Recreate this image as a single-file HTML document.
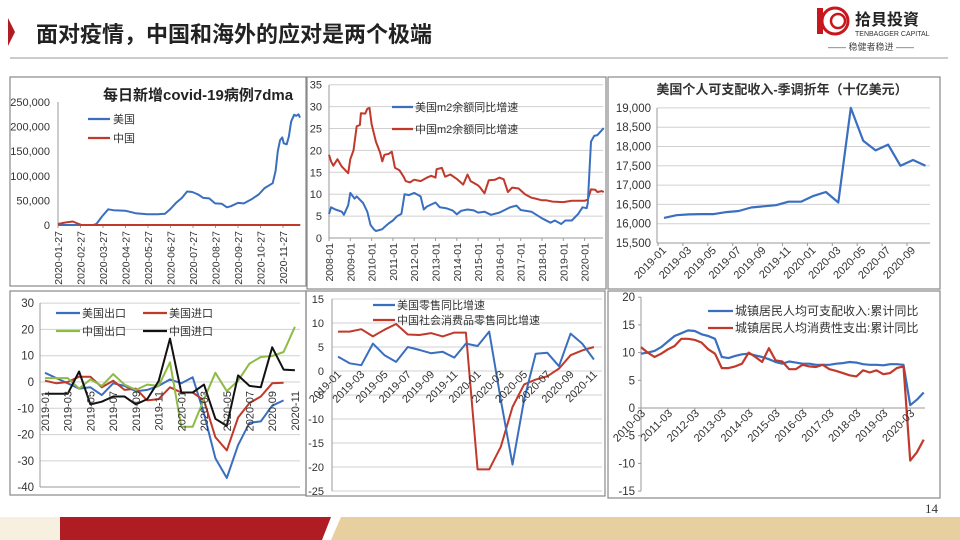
<!DOCTYPE html>
<html><head><meta charset="utf-8"><style>
body{margin:0;width:960px;height:540px;overflow:hidden;background:#fff;font-family:"Liberation Sans","Noto Sans CJK SC",sans-serif;}
svg{position:absolute;left:0;top:0}
</style></head><body>
<svg id="s" width="960" height="540" xmlns="http://www.w3.org/2000/svg" font-family="Liberation Sans, Noto Sans CJK SC, sans-serif"></svg>
<script>
var o='';
function T(x,y,t,sz,anc,extra){o+='<text x="'+x+'" y="'+y+'" font-size="'+sz+'" fill="#333" text-anchor="'+(anc||'start')+'" '+(extra||'')+'>'+t+'</text>';}
function L(x1,y1,x2,y2,c,w){o+='<line x1="'+x1+'" y1="'+y1+'" x2="'+x2+'" y2="'+y2+'" stroke="'+c+'" stroke-width="'+(w||1)+'"/>';}
function P(pts,c,w){o+='<polyline fill="none" stroke="'+c+'" stroke-width="'+(w||2.2)+'" stroke-linejoin="round" points="'+pts.map(function(p){return p[0].toFixed(1)+','+p[1].toFixed(1)}).join(' ')+'"/>';}
function R(x,y,w,h){o+='<rect x="'+x+'" y="'+y+'" width="'+w+'" height="'+h+'" fill="none" stroke="#888" stroke-width="1.2"/>';}
var BL='#3a6fbf',RD='#c0392b';
o+='<polygon points="8,18 15,32 8,46" fill="#b01c24"/>';
o+='<text x="36" y="42" font-size="22" font-weight="bold" fill="#222">面对疫情，中国和海外的应对是两个极端</text>';
L(10,58,948,58,'#999',1);
o+='<circle cx="835" cy="21" r="13" fill="#fff" stroke="#c8161d" stroke-width="3"/><circle cx="838" cy="21" r="7" fill="none" stroke="#c8161d" stroke-width="2.5"/><rect x="817" y="8" width="6" height="26" fill="#c8161d"/>';
o+='<text x="855" y="25" font-size="16" font-weight="bold" fill="#222">拾貝投資</text>';
o+='<text x="855" y="36" font-size="7" fill="#333">TENBAGGER CAPITAL</text>';
o+='<text x="828" y="50" font-size="9" fill="#444">—— 稳健者稳进 ——</text>';
o+='<rect x="0" y="517" width="60" height="23" fill="#f7efe0"/>';
o+='<polygon points="60,517 331,517 322,540 60,540" fill="#b01c24"/>';
o+='<polygon points="341,517 960,517 960,540 331,540" fill="#e8cfa0"/>';
T(925,513,'14',13,'start','font-family="Liberation Serif"');

// chart1
R(10,77,296,209);
(function(){var x0=58,x1=301,y0=225,k=24.6/50000;
for(var v=0;v<=250000;v+=50000){var y=y0-v*k;T(x0-8,y+4,v==0?'0':v.toLocaleString('en-US'),11,'end');}
L(x0,102,x0,y0,'#999');L(x0,y0,x1,y0,'#999');
var ms=['01','02','03','04','05','06','07','08','09','10','11'];
for(var i=0;i<11;i++){var x=x0+i*22.5;L(x,y0,x,y0+3,'#999');T(0,0,'2020-'+ms[i]+'-27',10.5,'end','transform="translate('+(x+4)+','+(y0+6)+') rotate(-90)"');}
function dx(d){return x0+d/30.5*22.5;}
var us=[[0,0],[48,0],[52,2],[60,18],[68,32],[75,30],[91,29],[105,24],[121,22],[135,22],[145,23],[152,32],[160,45],[168,55],[175,68],[182,67],[190,62],[197,55],[205,54],[213,44],[222,43],[229,36],[234,38],[244,45],[252,44],[262,52],[272,62],[280,75],[291,85],[295,110],[298,150],[301,172],[304,178],[306,166],[310,164],[313,180],[316,210],[320,224],[323,222],[326,225],[328,218]];
P(us.map(function(p){return [dx(p[0]),y0-p[1]*1000*k]}),BL,2);
P([[dx(0),y0-1],[dx(10),y0-2.5],[dx(20),y0-3.5],[dx(25),y0-2],[dx(32),y0],[dx(328),y0]],RD,2);
o+='<text x="103" y="100" font-size="15" font-weight="bold" fill="#222">每日新增covid-19病例7dma</text>';
L(88,119,110,119,BL,2.2);T(113,123,'美国',11);L(88,138,110,138,RD,2.2);T(113,142,'中国',11);
})();

// chart2
R(307,77,299,212);
(function(){var x0=329,x1=603,y0=238,k=21.9/5,yr=21.3;
for(var v=0;v<=35;v+=5){var y=y0-v*k;if(v>0)L(x0,y,x1,y,'#d0d0d0');T(x0-7,y+4,v,11,'end');}
L(x0,85,x0,y0,'#999');L(x0,y0,x1,y0,'#999');
for(var i=0;i<=12;i++){var x=x0+i*yr;L(x,y0,x,y0+3,'#999');T(0,0,(2008+i)+'-01',10.5,'end','transform="translate('+(x+4)+','+(y0+5)+') rotate(-90)"');}
function m(a){return a.map(function(p){return [x0+(p[0]-2008)*yr,y0-p[1]*k]});}
var cn=[[2008,19],[2008.1,17.5],[2008.2,16.5],[2008.4,18],[2008.6,16.3],[2008.9,14.8],[2009,18],[2009.15,20],[2009.3,25.5],[2009.45,25.8],[2009.5,28.5],[2009.7,28.4],[2009.8,29.5],[2009.9,29.7],[2010,26],[2010.2,22],[2010.4,19.5],[2010.5,17.5],[2010.6,19],[2010.8,19.2],[2010.95,19.7],[2011.1,16],[2011.3,15.5],[2011.5,14],[2011.6,13],[2011.8,12.7],[2012,13.3],[2012.3,13],[2012.6,13.8],[2012.8,14.2],[2013,13.8],[2013.05,15.7],[2013.3,16],[2013.45,14],[2013.7,14.5],[2014,13.5],[2014.3,12.2],[2014.5,14.5],[2014.65,13],[2015,12],[2015.1,11.5],[2015.3,10.2],[2015.5,13.2],[2015.8,13.3],[2016,13.8],[2016.2,13.4],[2016.4,10.5],[2016.6,11.5],[2016.9,11.3],[2017.2,10],[2017.5,9.2],[2017.7,9],[2018,8.6],[2018.2,8.6],[2018.5,8.3],[2019,8.2],[2019.4,8.5],[2019.8,8.5],[2020,8.5],[2020.15,8.8],[2020.3,11.1],[2020.5,11],[2020.6,10.5],[2020.8,10.7],[2020.9,10.5]];
var us=[[2008,5.5],[2008.1,7],[2008.3,6.5],[2008.6,6],[2008.7,5.3],[2008.9,7.5],[2009,10.3],[2009.2,9],[2009.3,9.5],[2009.6,8],[2009.8,6],[2009.95,3],[2010.1,2],[2010.2,1.6],[2010.5,2],[2010.6,2.5],[2010.8,3.3],[2011,4],[2011.2,5],[2011.4,5.5],[2011.55,10],[2011.75,9.8],[2012,10.3],[2012.3,9.5],[2012.45,6.5],[2012.6,7.2],[2013,8.1],[2013.2,7],[2013.5,6.8],[2013.8,6.3],[2014,5.4],[2014.2,6.2],[2014.5,6.5],[2014.8,6.3],[2015,5.8],[2015.3,6],[2015.6,5.3],[2016,5.8],[2016.5,7],[2016.8,7.4],[2017,6.4],[2017.5,6],[2018,4.5],[2018.4,3.5],[2018.6,4],[2018.9,3.2],[2019.1,4],[2019.4,4],[2019.7,5.5],[2019.9,7],[2020.1,6.8],[2020.15,8],[2020.3,22],[2020.45,23.3],[2020.6,23.5],[2020.75,24.3],[2020.9,25.1]];
P(m(cn),RD,2);P(m(us),BL,2);
L(392,107,413,107,BL,2.2);T(415,111,'美国m2余额同比增速',11);L(392,129,413,129,RD,2.2);T(415,133,'中国m2余额同比增速',11);
})();

// chart3
R(608,77,332,212);
(function(){var x0=657,x1=930,y0=243,k=19.3/500;
for(var v=15500;v<=19000;v+=500){var y=y0-(v-15500)*k;if(v>15500)L(x0,y,x1,y,'#d0d0d0');T(x0-6,y+4,v.toLocaleString('en-US'),11.5,'end');}
L(x0,108,x0,y0,'#999');L(x0,y0,x1,y0,'#999');
var d=[16150,16220,16240,16250,16250,16300,16330,16420,16450,16480,16570,16570,16720,16820,16550,19000,18150,17900,18050,17500,17650,17500];
var pts=d.map(function(v,i){return [664+i*12.45,y0-(v-15500)*k]});
P(pts,BL,2.2);
var lb=['2019-01','2019-03','2019-05','2019-07','2019-09','2019-11','2020-01','2020-03','2020-05','2020-07','2020-09'];
for(var i=0;i<11;i++){var x=664+i*2*12.45;L(x-6,y0,x-6,y0+3,'#999');T(0,0,lb[i],11,'end','transform="translate('+(x+3)+','+(y0+8)+') rotate(-45)"');}
T(782,94,'美国个人可支配收入-季调折年（十亿美元）',13,'middle','font-weight="bold" fill="#222"');
})();

// chart4
R(10,291,296,204);
(function(){var x0=40,x1=300,yz=382,k=26.3/10,sp=11.36,xs=45;
for(var v=-40;v<=30;v+=10){var y=yz-v*k;if(v>-40)L(x0,y,x1,y,'#d0d0d0');T(x0-6,y+4,v,11.5,'end');}
L(x0,303,x0,487,'#999');L(x0,487,x1,487,'#999');
function m(a){return a.map(function(v,i){return [xs+i*sp,yz-v*k]});}
P(m([3.5,1.5,-0.5,-2.5,-2,-5,-0.5,-1.5,-3.5,-3,-1.5,1,-0.5,1.8,-12,-29,-36.5,-24,-15.5,-15,-9,-7]),BL,2);
P(m([0.5,-0.5,0,2,2,-2,0.5,-3,-2.5,-7,-6.5,-2,-4,-4,-7,-21,-26,-13.5,-8,-5.5,-0.5,-0.3]),RD,2);
P(m([1.5,1.5,1.5,-2.5,1,-1.5,3,-1,-3,-1,-1.5,7.5,-17,-17,-6.5,3.5,-3.5,0.5,7,9.5,9.9,11.4,21]),'#8dbb44',2);
P(m([-4.5,-4.5,-4.5,4,-8.5,-7.5,-5.5,-5.5,-8.5,-6.5,0.3,16.5,-4,-4,-1,-14,-16.7,2.5,-1.5,-2,13.2,4.7,4.5]),'#111',2);
var lb=['2019-01','2019-03','2019-05','2019-07','2019-09','2019-11','2020-01','2020-03','2020-05','2020-07','2020-09','2020-11'];
for(var i=0;i<12;i++){var x=xs+i*2*sp;T(0,0,lb[i],11,'end','transform="translate('+(x+4)+','+(yz+9)+') rotate(-90)"');}
L(56,313,80,313,BL,2.2);T(82,317,'美国出口',11);L(143,313,167,313,RD,2.2);T(169,317,'美国进口',11);
L(56,331,80,331,'#8dbb44',2.2);T(82,335,'中国出口',11);L(143,331,167,331,'#111',2.2);T(169,335,'中国进口',11);
})();

// chart5
R(306,291,299,205);
(function(){var x0=332,x1=602,yz=371,k=24/5,sp=11.63,xs=338;
for(var v=-25;v<=15;v+=5){var y=yz-v*k;L(x0,y,x1,y,'#d0d0d0');T(x0-8,y+4,v,11,'end');}
L(x0,299,x0,491,'#999');
function m(a){return a.map(function(v,i){return [xs+i*sp,yz-v*k]});}
P(m([8.2,8.2,8.7,7.2,8.6,9.8,7.6,7.5,7.9,7.2,8,8,-20.5,-20.5,-15.8,-7.5,-2.8,-1.8,-1.1,0.5,3.3,4.3,5]),RD,2);
P(m([3,1.6,1.2,5.7,3.3,1.9,5,4.4,3.7,4,2.8,5.7,5.2,8.2,-6,-19.5,-6,3.6,3.8,1,7.8,5.7,2.4]),BL,2);
var lb=['2019-01','2019-03','2019-05','2019-07','2019-09','2019-11','2020-01','2020-03','2020-05','2020-07','2020-09','2020-11'];
for(var i=0;i<12;i++){var x=xs+i*2*sp;T(0,0,lb[i],11,'end','transform="translate('+(x+4)+','+(yz+4)+') rotate(-45)"');}
L(373,305,395,305,BL,2.2);T(397,309,'美国零售同比增速',11);L(373,320,395,320,RD,2.2);T(397,324,'中国社会消费品零售同比增速',11);
})();

// chart6
R(608,291,332,207);
(function(){var x0=641,x1=925,yz=408,k=27.7/5,sp=6.73;
for(var v=-15;v<=20;v+=5){var y=yz-v*k;T(x0-6,y+4,v,11.5,'end');L(x0-3,y,x0,y,'#999');}
L(x0,297,x0,491,'#999');L(x0,yz,x1,yz,'#999');
function m(a){return a.map(function(v,i){return [x0+i*sp,yz-v*k]});}
P(m([9.8,10,10.3,11,12,13,13.5,14,13.9,13.3,13,12.5,9.2,9,9.4,9.7,9.8,9.5,9.2,8.8,8.3,8,8.4,8.2,8,8,7.8,7.8,7.8,8,8.1,8.3,8.2,7.9,7.8,7.8,7.7,7.9,7.9,7.8,0.5,1.5,2.8]),BL,2.2);
P(m([11,10,9.2,9.8,10.6,11.2,12.5,12.5,12.3,11.8,10.6,9.8,7.2,7.2,7.5,8,10,9.2,8.3,10.8,8.6,8.4,7,7,7.8,7.5,7.4,7.8,7,6.7,6.3,5.9,5.7,6.8,6.4,6.8,6.1,6.3,7.2,7.5,-9.5,-8,-5.7]),RD,2.2);
for(var i=0;i<=10;i++){var x=x0+i*4*sp;L(x,yz,x,yz+3,'#999');T(0,0,(2010+i)+'-03',11,'end','transform="translate('+(x+5)+','+(yz+6)+') rotate(-45)"');}
L(708,311,733,311,BL,2.2);T(735,315,'城镇居民人均可支配收入:累计同比',12);L(708,328,733,328,RD,2.2);T(735,332,'城镇居民人均消费性支出:累计同比',12);
})();
document.getElementById('s').innerHTML=o;
</script>
</body></html>
